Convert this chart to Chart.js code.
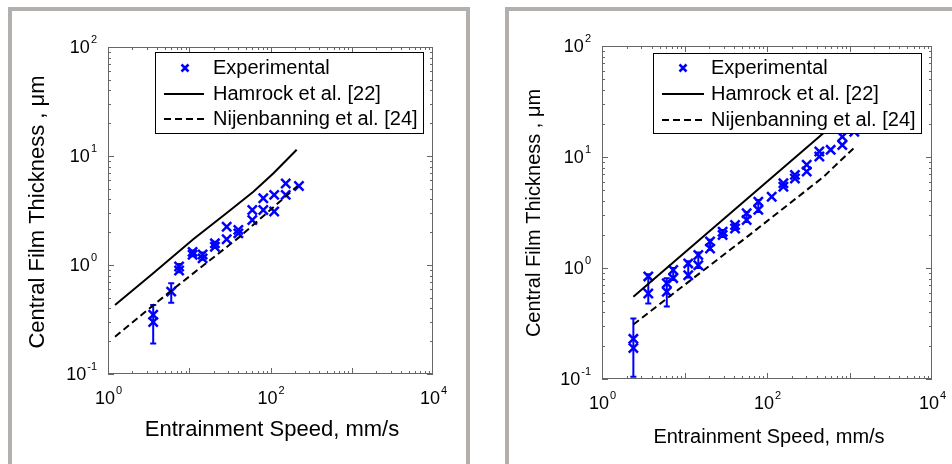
<!DOCTYPE html>
<html>
<head>
<meta charset="utf-8">
<script src="https://cdn.jsdelivr.net/npm/chart.js@4.4.0/dist/chart.umd.min.js"></script>
<style>
    body {
        margin: 0;
        width: 952px;
        height: 464px;
        overflow: hidden;
        background: #fff;
        position: relative;
    }
    .panel {
        position: absolute;
        top: 7px;
        height: 480px;
        border: 4px solid #b3afad;
        box-sizing: border-box;
    }
    #panelA { left: 8px; width: 462px; }
    #panelB { left: 505px; width: 480px; }
    canvas { position: absolute; top: 0; }
    #chartA { left: 0; }
    #chartB { left: 476px; }
</style>
</head>
<body>
<div class="panel" id="panelA"></div>
<div class="panel" id="panelB"></div>
<canvas id="chartA" width="476" height="464"></canvas>
<canvas id="chartB" width="476" height="464"></canvas>

<script>
// ---- data ----
const seriesLabels = ["Experimental", "Hamrock et al. [22]", "Nijenbanning et al. [24]"];
const xTitle = "Entrainment Speed, mm/s";
const yTitle = "Central Film Thickness , \u03bcm";
const xTickPowers = [0, 2, 4];
const yTickPowers = [-1, 0, 1, 2];

// left panel
const leftHamSpeed = [1.22, 3.6, 11.2, 28.9, 61.5, 108, 210];
const leftHamFilm = [0.43, 0.84, 1.72, 3.0, 4.7, 6.9, 11.4];
const leftNijSpeed = [1.22, 5.8, 42, 215];
const leftNijFilm = [0.22, 0.57, 1.82, 5.3];
const leftExpSpeed = [3.6, 3.6, 6.0, 7.5, 7.5, 11, 11, 14.6, 14.6, 20.7, 20.7, 28.9, 28.9, 40.2, 40.2, 59.7, 59.7, 81.5, 81.5, 111, 111, 154, 154, 224];
const leftExpFilm = [0.35, 0.30, 0.57, 0.97, 0.89, 1.32, 1.24, 1.25, 1.15, 1.58, 1.47, 2.24, 1.72, 2.1, 1.95, 3.2, 2.59, 4.1, 3.2, 4.4, 3.1, 5.6, 4.4, 5.3];
const leftErrSpeed = [3.6, 6.0, 7.5, 11, 14.6, 20.7];
const leftErrLow = [0.19, 0.45, 0.86, 1.2, 1.12, 1.43];
const leftErrHigh = [0.43, 0.68, 1.02, 1.36, 1.3, 1.63];

// right panel
const rightHamSpeed = [2.4, 481, 1150];
const rightHamFilm = [0.55, 16.4, 28.7];
const rightNijSpeed = [2.4, 6.1, 16.9, 62.2, 481, 1150];
const rightNijFilm = [0.31, 0.53, 0.95, 2.0, 6.6, 12.2];
const rightExpSpeed = [2.4, 2.4, 3.64, 3.64, 6.1, 6.1, 7.3, 7.3, 11.1, 11.1, 14.7, 14.7, 20.4, 20.4, 29, 29, 41, 41, 56.7, 56.7, 78.5, 78.5, 114, 158, 158, 218, 218, 303, 303, 431, 431, 591, 818, 818, 1143];
const rightExpFilm = [0.23, 0.19, 0.84, 0.59, 0.73, 0.61, 0.96, 0.81, 1.1, 0.86, 1.31, 1.06, 1.73, 1.5, 2.12, 1.98, 2.44, 2.27, 3.11, 2.71, 3.96, 3.34, 4.39, 5.8, 5.4, 6.9, 6.4, 8.5, 7.4, 11.2, 10.1, 11.6, 15.2, 12.8, 16.9];
const rightErrSpeed = [2.4, 3.64, 6.1, 7.3, 11.1, 14.7, 20.4, 29, 41, 56.7, 78.5];
const rightErrLow = [0.105, 0.48, 0.45, 0.78, 0.82, 1.0, 1.45, 1.9, 2.2, 2.6, 3.2];
const rightErrHigh = [0.35, 0.88, 0.81, 1.0, 1.15, 1.38, 1.8, 2.2, 2.5, 3.2, 4.1];

const BLUE = "#0000ff";
const FONT = '"Liberation Sans", Arial, sans-serif';

function pts(xs, ys) {
    return xs.map((x, i) => ({ x: x, y: ys[i] }));
}

// "10" with a raised exponent
function drawPower(ctx, exp, x, y, size, align) {
    const base = "10";
    const sup = String(exp);
    ctx.font = size + "px " + FONT;
    const wb = ctx.measureText(base).width;
    ctx.font = Math.round(size * 0.62) + "px " + FONT;
    const ws = ctx.measureText(sup).width;
    let left = x;
    if (align === "center") left = x - (wb + ws) / 2;
    if (align === "right") left = x - (wb + ws);
    ctx.textAlign = "left";
    ctx.textBaseline = "middle";
    ctx.fillStyle = "#000";
    ctx.font = size + "px " + FONT;
    ctx.fillText(base, left, y);
    ctx.font = Math.round(size * 0.62) + "px " + FONT;
    ctx.fillText(sup, left + wb + 1, y - size * 0.45);
}

const decorPlugin = {
    id: "decor",
    beforeDatasetsDraw(chart, args, o) {
        // error bars
        const ctx = chart.ctx;
        const xs = chart.scales.x, ys = chart.scales.y;
        ctx.save();
        ctx.strokeStyle = BLUE;
        ctx.lineWidth = 2;
        o.errSpeed.forEach((s, i) => {
            const px = xs.getPixelForValue(s);
            const y1 = ys.getPixelForValue(o.errLow[i]);
            const y2 = ys.getPixelForValue(o.errHigh[i]);
            ctx.beginPath();
            ctx.moveTo(px, y1); ctx.lineTo(px, y2);
            ctx.moveTo(px - 3, y1); ctx.lineTo(px + 3, y1);
            ctx.moveTo(px - 3, y2); ctx.lineTo(px + 3, y2);
            ctx.stroke();
        });
        ctx.restore();
    },
    afterDatasetsDraw(chart, args, o) {
        const ctx = chart.ctx;
        const a = chart.chartArea;
        const xs = chart.scales.x, ys = chart.scales.y;
        ctx.save();

        // box frame
        ctx.strokeStyle = "#666";
        ctx.lineWidth = 1;
        ctx.strokeRect(a.left + 0.5, a.top + 0.5, a.right - a.left - 1, a.bottom - a.top - 1);

        // log ticks on all four sides
        ctx.beginPath();
        for (let n = 0; n < 4; n++) {
            for (let k = 1; k < 10; k++) {
                const v = k * Math.pow(10, n);
                const px = Math.round(xs.getPixelForValue(v)) + 0.5;
                const len = k === 1 ? 6 : 3;
                ctx.moveTo(px, a.bottom); ctx.lineTo(px, a.bottom - len);
                ctx.moveTo(px, a.top); ctx.lineTo(px, a.top + len);
            }
        }
        for (let n = -1; n < 2; n++) {
            for (let k = 1; k < 10; k++) {
                const v = k * Math.pow(10, n);
                const py = Math.round(ys.getPixelForValue(v)) + 0.5;
                const len = k === 1 ? 6 : 3;
                ctx.moveTo(a.left, py); ctx.lineTo(a.left + len, py);
                ctx.moveTo(a.right, py); ctx.lineTo(a.right - len, py);
            }
        }
        ctx.stroke();

        // tick labels
        xTickPowers.forEach((p) => {
            drawPower(ctx, p, xs.getPixelForValue(Math.pow(10, p)), a.bottom + o.xLabelGap, o.tickSize, "center");
        });
        yTickPowers.forEach((p) => {
            drawPower(ctx, p, a.left - o.yLabelGap, ys.getPixelForValue(Math.pow(10, p)) + 1, o.tickSize, "right");
        });

        // axis titles
        ctx.fillStyle = "#000";
        ctx.textAlign = "center";
        ctx.textBaseline = "middle";
        ctx.font = o.xTitleSize + "px " + FONT;
        ctx.fillText(xTitle, o.xTitlePos[0], o.xTitlePos[1]);
        ctx.save();
        ctx.translate(o.yTitlePos[0], o.yTitlePos[1]);
        ctx.rotate(-Math.PI / 2);
        ctx.font = o.yTitleSize + "px " + FONT;
        ctx.fillText(yTitle, 0, 0);
        ctx.restore();

        // legend box
        const L = o.legend;
        ctx.fillStyle = "#fff";
        ctx.fillRect(L.x, L.y, L.w, L.h);
        ctx.strokeStyle = "#000";
        ctx.lineWidth = 1;
        ctx.strokeRect(L.x + 0.5, L.y + 0.5, L.w, L.h);
        ctx.font = L.size + "px " + FONT;
        ctx.textAlign = "left";
        ctx.fillStyle = "#000";
        L.rows.forEach((ry, i) => {
            ctx.fillText(seriesLabels[i], L.textX, ry);
        });
        // marker sample
        const mx = L.markerX, my = L.rows[0];
        ctx.strokeStyle = BLUE;
        ctx.lineWidth = 2.5;
        ctx.beginPath();
        ctx.moveTo(mx - 3.5, my - 3.5); ctx.lineTo(mx + 3.5, my + 3.5);
        ctx.moveTo(mx + 3.5, my - 3.5); ctx.lineTo(mx - 3.5, my + 3.5);
        ctx.stroke();
        // line samples
        ctx.strokeStyle = "#000";
        ctx.lineWidth = 2;
        ctx.beginPath();
        ctx.moveTo(L.lineX[0], L.rows[1]); ctx.lineTo(L.lineX[1], L.rows[1]);
        ctx.stroke();
        ctx.setLineDash([7, 4]);
        ctx.beginPath();
        ctx.moveTo(L.lineX[0], L.rows[2]); ctx.lineTo(L.lineX[1], L.rows[2]);
        ctx.stroke();
        ctx.restore();
    },
};

function makeChart(id, d, padding, decor) {
    return new Chart(document.getElementById(id), {
        type: "scatter",
        data: {
            datasets: [
                {
                    label: seriesLabels[1],
                    data: pts(d.hamSpeed, d.hamFilm),
                    showLine: true,
                    borderColor: "#000",
                    borderWidth: 2,
                    pointRadius: 0,
                },
                {
                    label: seriesLabels[2],
                    data: pts(d.nijSpeed, d.nijFilm),
                    showLine: true,
                    borderColor: "#000",
                    borderWidth: 2,
                    borderDash: [7, 4],
                    pointRadius: 0,
                },
                {
                    label: seriesLabels[0],
                    data: pts(d.expSpeed, d.expFilm),
                    showLine: false,
                    pointStyle: "crossRot",
                    pointRadius: 6.5,
                    borderColor: BLUE,
                    backgroundColor: BLUE,
                    borderWidth: 2.5,
                },
            ],
        },
        options: {
            responsive: false,
            animation: false,
            events: [],
            layout: { padding: padding },
            plugins: {
                legend: { display: false },
                tooltip: { enabled: false },
                decor: decor,
            },
            scales: {
                x: {
                    type: "logarithmic",
                    min: 1,
                    max: 10000,
                    ticks: { display: false },
                    grid: { display: false, drawTicks: false },
                    border: { display: false },
                },
                y: {
                    type: "logarithmic",
                    min: 0.1,
                    max: 100,
                    ticks: { display: false },
                    grid: { display: false, drawTicks: false },
                    border: { display: false },
                },
            },
        },
        plugins: [decorPlugin],
    });
}

makeChart(
    "chartA",
    {
        hamSpeed: leftHamSpeed, hamFilm: leftHamFilm,
        nijSpeed: leftNijSpeed, nijFilm: leftNijFilm,
        expSpeed: leftExpSpeed, expFilm: leftExpFilm,
    },
    { left: 108, top: 47, right: 43, bottom: 90 },
    {
        errSpeed: leftErrSpeed, errLow: leftErrLow, errHigh: leftErrHigh,
        tickSize: 18, xLabelGap: 25, yLabelGap: 12,
        xTitleSize: 22, xTitlePos: [272, 430],
        yTitleSize: 22, yTitlePos: [38, 212],
        legend: {
            x: 155, y: 52, w: 268, h: 81, size: 20,
            rows: [68, 94, 119], textX: 213, markerX: 185, lineX: [164, 204],
        },
    }
);

makeChart(
    "chartB",
    {
        hamSpeed: rightHamSpeed, hamFilm: rightHamFilm,
        nijSpeed: rightNijSpeed, nijFilm: rightNijFilm,
        expSpeed: rightExpSpeed, expFilm: rightExpFilm,
    },
    { left: 126, top: 46, right: 20, bottom: 85 },
    {
        errSpeed: rightErrSpeed, errLow: rightErrLow, errHigh: rightErrHigh,
        tickSize: 18, xLabelGap: 25, yLabelGap: 12,
        xTitleSize: 20, xTitlePos: [293, 437],
        yTitleSize: 20, yTitlePos: [58, 213],
        legend: {
            x: 177, y: 53, w: 268, h: 80, size: 20,
            rows: [68, 94, 120], textX: 235, markerX: 207, lineX: [186, 228],
        },
    }
);
</script>
</body>
</html>
